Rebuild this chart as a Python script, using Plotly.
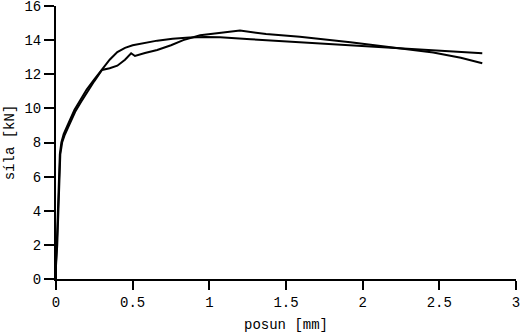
import plotly.graph_objects as go

# Curve A (smooth)
xa = [0.0, 0.0, 0.005, 0.012, 0.018, 0.025, 0.035, 0.05, 0.08, 0.12, 0.16, 0.2, 0.25, 0.3, 0.35, 0.4, 0.45, 0.5, 0.58, 0.66, 0.76, 0.87, 0.97, 1.07, 1.27, 1.59, 1.92, 2.24, 2.5, 2.78]
ya = [0.0, 1.0, 2.0, 4.0, 6.0, 7.3, 8.0, 8.5, 9.1, 9.9, 10.5, 11.1, 11.7, 12.25, 12.85, 13.3, 13.55, 13.7, 13.85, 13.97, 14.08, 14.16, 14.18, 14.17, 14.05, 13.87, 13.72, 13.52, 13.36, 13.23]

# Curve B (with kink near 0.5 mm)
xb = [0.0, 0.0, 0.008, 0.015, 0.02, 0.028, 0.04, 0.055, 0.085, 0.125, 0.165, 0.205, 0.25, 0.3, 0.35, 0.4, 0.45, 0.49, 0.515, 0.58, 0.66, 0.75, 0.83, 0.94, 1.03, 1.155, 1.2, 1.37, 1.59, 1.92, 2.24, 2.46, 2.64, 2.78]
yb = [0.0, 0.8, 2.0, 4.0, 6.0, 7.3, 8.0, 8.4, 9.0, 9.8, 10.4, 11.0, 11.6, 12.25, 12.35, 12.5, 12.85, 13.23, 13.07, 13.25, 13.42, 13.7, 14.0, 14.28, 14.38, 14.54, 14.56, 14.36, 14.2, 13.87, 13.52, 13.27, 12.97, 12.64]

x_ticks = [0, 0.5, 1, 1.5, 2, 2.5, 3]
x_tick_labels = ["0", "0.5", "1", "1.5", "2", "2.5", "3"]
y_ticks = [0, 2, 4, 6, 8, 10, 12, 14, 16]

fig = go.Figure()
fig.add_trace(go.Scatter(x=xa, y=ya, mode="lines", line=dict(color="black", width=2), showlegend=False))
fig.add_trace(go.Scatter(x=xb, y=yb, mode="lines", line=dict(color="black", width=2), showlegend=False))

font = dict(family="Liberation Mono, Courier New, monospace", size=14, color="black")
fig.update_layout(
    width=523, height=333,
    margin=dict(l=56, r=7, t=6, b=54, autoexpand=False),
    paper_bgcolor="white", plot_bgcolor="white",
    font=font,
    xaxis=dict(range=[0, 3], tickvals=x_ticks, ticktext=x_tick_labels, showgrid=False, zeroline=False,
               showline=True, linecolor="black", linewidth=2, ticks="outside", ticklen=9, tickwidth=2,
               tickcolor="black", automargin=False, ticklabeloverflow="allow",
               title=dict(text="posun [mm]", font=font, standoff=10)),
    yaxis=dict(range=[0, 16], tickvals=y_ticks, showgrid=False, zeroline=False,
               showline=True, linecolor="black", linewidth=2, ticks="outside", ticklen=10, tickwidth=2,
               tickcolor="black", automargin=False, ticklabeloverflow="allow",
               title=dict(text="síla [kN]", font=font, standoff=6)),
)
fig.write_html("out.html", config={"displayModeBar": False},
               post_script="document.body.style.margin='0';document.body.style.overflow='hidden';")
